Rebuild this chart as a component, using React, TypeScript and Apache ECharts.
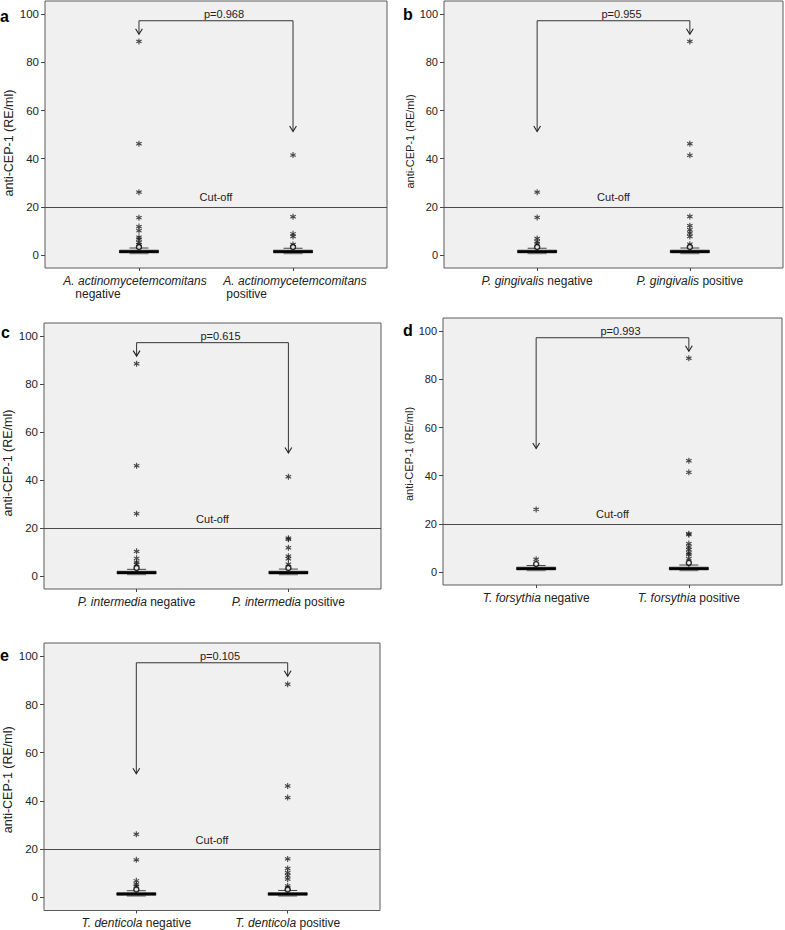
import React, { useEffect, useRef } from "react";
import * as echarts from "echarts";

// ---------- data ----------
const panelLetters = ["a", "b", "c", "d", "e"];
const speciesNames = [
  "A. actinomycetemcomitans",
  "P. gingivalis",
  "P. intermedia",
  "T. forsythia",
  "T. denticola",
];
const groupNames = ["negative", "positive"];
const pValues = ["p=0.968", "p=0.955", "p=0.615", "p=0.993", "p=0.105"];
const yTickValues = [0, 20, 40, 60, 80, 100];
const cutOff = 20;
const bracketTop = 97.3;
// arrow tip values [negative side, positive side]
const arrowEnds = [
  [91.7, 51.3],
  [51.3, 91.7],
  [91.7, 51.3],
  [51.3, 91.7],
  [51.3, 91.7],
];

// box statistics per group: [lower whisker, Q1, median, Q3, upper whisker]
const boxA = [
  [0.3, 0.9, 1.4, 2.0, 2.9],
  [0.3, 0.9, 1.4, 2.0, 2.8],
];
const boxB = [
  [0.3, 0.9, 1.4, 2.0, 2.8],
  [0.3, 0.9, 1.4, 2.0, 2.9],
];
const boxC = [
  [0.3, 0.9, 1.4, 2.0, 2.8],
  [0.3, 0.9, 1.4, 2.0, 2.9],
];
const boxD = [
  [0.3, 0.9, 1.4, 2.0, 2.7],
  [0.3, 0.9, 1.4, 2.0, 2.9],
];
const boxE = [
  [0.3, 0.9, 1.4, 2.0, 2.8],
  [0.3, 0.9, 1.4, 2.0, 2.9],
];

// extreme outliers (stars)
const negStarsA = [88.7, 46.2, 26.1, 15.5, 11.8, 10.1, 7.4, 6.6, 5.2, 4.3];
const posStarsA = [41.5, 15.9, 8.8, 7.7, 4.4];
const negStarsB = [26.1, 15.6, 6.9, 5.5, 4.6];
const posStarsB = [88.7, 46.2, 41.4, 16.0, 12.2, 10.5, 9.1, 7.7, 4.5];
const negStarsC = [88.5, 46.0, 26.0, 10.3, 7.4, 5.8, 4.9];
const posStarsC = [41.4, 15.8, 15.3, 11.8, 8.3, 7.2, 4.9];
const negStarsD = [26.0, 5.3];
const posStarsD = [88.8, 46.2, 41.4, 15.9, 15.5, 11.8, 10.4, 9.3, 7.9, 7.2, 5.5];
const negStarsE = [26.2, 15.6, 6.9, 5.5, 4.7];
const posStarsE = [88.4, 46.2, 41.4, 16.0, 12.0, 10.3, 9.0, 7.6, 4.8, 3.9];

// mild outliers (circles)
const negCirclesA = [3.3];
const posCirclesA = [3.3];
const negCirclesB = [3.3];
const posCirclesB = [3.3];
const negCirclesC = [3.4];
const posCirclesC = [3.4];
const negCirclesD = [3.3];
const posCirclesD = [3.8];
const negCirclesE = [3.3];
const posCirclesE = [3.3];

const boxes = [boxA, boxB, boxC, boxD, boxE];
const stars = [
  [negStarsA, posStarsA],
  [negStarsB, posStarsB],
  [negStarsC, posStarsC],
  [negStarsD, posStarsD],
  [negStarsE, posStarsE],
];
const circles = [
  [negCirclesA, posCirclesA],
  [negCirclesB, posCirclesB],
  [negCirclesC, posCirclesC],
  [negCirclesD, posCirclesD],
  [negCirclesE, posCirclesE],
];

// ---------- layout ----------
const FONT = "'Liberation Sans', Arial, Helvetica, sans-serif";
const grids = [
  { left: 45, top: 1, width: 342, height: 267 },
  { left: 444, top: 1, width: 339, height: 267 },
  { left: 43, top: 323, width: 338, height: 266 },
  { left: 443, top: 318, width: 339, height: 267 },
  { left: 43, top: 643, width: 337, height: 268 },
];
const leftCol = [true, false, true, false, true];
const nameGaps = [30, 26, 30, 25, 30];
const nameShift = [17, 14, 14, 5, 6];
const letterPos = [
  [0, 16],
  [403, 14],
  [1, 332],
  [403, 330],
  [0, 655],
];

const STAR =
  "path://M4.1,0 L5.9,0 L5.9,10 L4.1,10 Z " +
  "M0,3.4 L0.9,1.8 L10,6.6 L9.1,8.2 Z " +
  "M0.9,8.2 L0,6.6 L9.1,1.8 L10,3.4 Z";

function boxRender(params: any, api: any) {
  const x = api.value(0);
  const lo = api.coord([x, api.value(1)]);
  const q1 = api.coord([x, api.value(2)]);
  const md = api.coord([x, api.value(3)]);
  const q3 = api.coord([x, api.value(4)]);
  const hi = api.coord([x, api.value(5)]);
  const cx = lo[0];
  const bw = 39;
  const cw = 19;
  return {
    type: "group",
    children: [
      {
        type: "rect",
        shape: { x: cx - cw / 2, y: q1[1], width: cw, height: Math.max(lo[1] - q1[1], 1) },
        style: { fill: "#8c8c8c" },
      },
      {
        type: "line",
        shape: { x1: cx, y1: q3[1], x2: cx, y2: hi[1] },
        style: { stroke: "#444", lineWidth: 1 },
      },
      {
        type: "line",
        shape: { x1: cx - cw / 2, y1: hi[1], x2: cx + cw / 2, y2: hi[1] },
        style: { stroke: "#444", lineWidth: 1 },
      },
      {
        type: "rect",
        shape: { x: cx - bw / 2, y: q3[1], width: bw, height: q1[1] - q3[1] },
        style: { fill: "#111", stroke: "#000", lineWidth: 0.6 },
      },
      {
        type: "line",
        shape: { x1: cx - bw / 2, y1: md[1], x2: cx + bw / 2, y2: md[1] },
        style: { stroke: "#000", lineWidth: 2 },
      },
    ],
  };
}

function makeBracketRender(p: string) {
  return function (params: any, api: any) {
    const L = api.coord([api.value(0), api.value(2)]);
    const R = api.coord([api.value(1), api.value(2)]);
    const Le = api.coord([api.value(0), api.value(3)]);
    const Re = api.coord([api.value(1), api.value(4)]);
    const head = (pt: number[]) => ({
      type: "polyline",
      shape: {
        points: [
          [pt[0] - 3.4, pt[1] - 5.5],
          [pt[0], pt[1]],
          [pt[0] + 3.4, pt[1] - 5.5],
        ],
      },
      style: { stroke: "#222", lineWidth: 1.1, fill: "none" },
    });
    return {
      type: "group",
      children: [
        {
          type: "polyline",
          shape: { points: [Le, L, R, Re] },
          style: { stroke: "#333", lineWidth: 1, fill: "none" },
        },
        head(Le),
        head(Re),
        {
          type: "text",
          x: (L[0] + R[0]) / 2 + 8,
          y: L[1] - 7,
          style: {
            text: p,
            fill: "#222",
            fontSize: 11,
            fontFamily: FONT,
            align: "center",
            verticalAlign: "middle",
          },
        },
      ],
    };
  };
}

function xLabel(i: number) {
  return (v: number) => {
    const g = Math.round(v) === 1 ? 0 : 1;
    if (i === 0) {
      return g === 0
        ? "{i0|" + speciesNames[i] + "}\n{n0|" + groupNames[g] + "}"
        : "{i1|" + speciesNames[i] + "}\n{n1|" + groupNames[g] + "}";
    }
    return "{i|" + speciesNames[i] + "} {n|" + groupNames[g] + "}";
  };
}

function buildOption() {
  const grid: any[] = [];
  const xAxis: any[] = [];
  const yAxis: any[] = [];
  const series: any[] = [];
  const graphic: any[] = [];
  for (let i = 0; i < 5; i++) {
    grid.push({
      ...grids[i],
      show: true,
      backgroundColor: "#f0f0f0",
      borderColor: "#5a5a5a",
      borderWidth: 1,
    });
    const fs = leftCol[i] ? 11.5 : 11;
    xAxis.push({
      type: "value",
      gridIndex: i,
      position: "bottom",
      min: 0.39,
      max: 2.61,
      splitLine: { show: false },
      axisLine: { show: false, onZero: false },
      axisTick: { show: true, customValues: [1, 2], length: 3, lineStyle: { color: "#444" } },
      axisLabel: {
        customValues: [1, 2],
        hideOverlap: false,
        margin: 6,
        color: "#222",
        fontFamily: FONT,
        fontSize: 12,
        lineHeight: 13.5,
        formatter: xLabel(i),
        rich: {
          i: { fontStyle: "italic", fontSize: 12, fontFamily: FONT, color: "#222" },
          n: { fontSize: 12, fontFamily: FONT, color: "#222" },
          i0: { fontStyle: "italic", fontSize: 12, fontFamily: FONT, color: "#222", padding: [0, 8, 0, 0], lineHeight: 13.5 },
          n0: { fontSize: 12, fontFamily: FONT, color: "#222", align: "left", padding: [0, 0, 0, 12], lineHeight: 13.5 },
          i1: { fontStyle: "italic", fontSize: 12, fontFamily: FONT, color: "#222", padding: [0, 0, 0, 4], lineHeight: 13.5 },
          n1: { fontSize: 12, fontFamily: FONT, color: "#222", align: "left", padding: [0, 0, 0, 7], lineHeight: 13.5 },
        },
      },
    });
    yAxis.push({
      type: "value",
      gridIndex: i,
      position: "left",
      min: -5.4,
      max: 105.5,
      name: "anti-CEP-1 (RE/ml)",
      nameLocation: "middle",
      nameGap: nameGaps[i],
      nameTextStyle: {
        fontSize: leftCol[i] ? 12.5 : 11,
        color: "#222",
        fontFamily: FONT,
        padding: [0, nameShift[i], 0, 0],
      },
      splitLine: { show: false },
      axisLine: { show: false, onZero: false },
      axisTick: { show: true, customValues: yTickValues, length: 4, lineStyle: { color: "#444" } },
      axisLabel: {
        customValues: yTickValues,
        margin: 6,
        color: "#222",
        fontSize: fs,
        fontFamily: FONT,
      },
    });

    // boxes
    series.push({
      type: "custom",
      xAxisIndex: i,
      yAxisIndex: i,
      renderItem: boxRender,
      data: boxes[i].map((b, g) => [g + 1, ...b]),
      silent: true,
      z: 3,
    });
    // stars (extreme outliers) + cut-off line
    const starData: number[][] = [];
    stars[i].forEach((arr, g) => arr.forEach((v) => starData.push([g + 1, v])));
    series.push({
      type: "scatter",
      xAxisIndex: i,
      yAxisIndex: i,
      symbol: STAR,
      symbolSize: 6,
      itemStyle: { color: "#1a1a1a" },
      data: starData,
      silent: true,
      z: 4,
      markLine: {
        silent: true,
        symbol: "none",
        lineStyle: { color: "#4a4a4a", width: 1, type: "solid" },
        label: {
          show: true,
          position: "middle",
          formatter: "Cut-off",
          color: "#222",
          fontSize: 11,
          fontFamily: FONT,
          distance: 4,
        },
        data: [{ yAxis: cutOff }],
      },
    });
    // circles (mild outliers)
    const circData: number[][] = [];
    circles[i].forEach((arr, g) => arr.forEach((v) => circData.push([g + 1, v])));
    series.push({
      type: "scatter",
      xAxisIndex: i,
      yAxisIndex: i,
      symbol: "circle",
      symbolSize: 5,
      itemStyle: { color: "#f4f4f4", borderColor: "#000", borderWidth: 1.5 },
      data: circData,
      silent: true,
      z: 5,
    });
    // bracket with p value
    series.push({
      type: "custom",
      xAxisIndex: i,
      yAxisIndex: i,
      renderItem: makeBracketRender(pValues[i]),
      data: [[1, 2, bracketTop, arrowEnds[i][0], arrowEnds[i][1]]],
      silent: true,
      z: 6,
    });

    graphic.push({
      type: "text",
      x: letterPos[i][0],
      y: letterPos[i][1],
      style: {
        text: panelLetters[i],
        fontSize: 16,
        fontWeight: "bold",
        fontFamily: FONT,
        fill: "#000",
        verticalAlign: "middle",
      },
    });
  }
  return {
    animation: false,
    backgroundColor: "#ffffff",
    grid,
    xAxis,
    yAxis,
    series,
    graphic,
  };
}

export default function App() {
  const ref = useRef<HTMLDivElement>(null);
  useEffect(() => {
    if (!ref.current) return;
    const chart = echarts.init(ref.current, null, { renderer: "svg" });
    chart.setOption(buildOption() as any);
    return () => chart.dispose();
  }, []);
  return (
    <div
      ref={ref}
      style={{ position: "fixed", left: 0, top: 0, width: 785, height: 930, background: "#fff" }}
    />
  );
}
